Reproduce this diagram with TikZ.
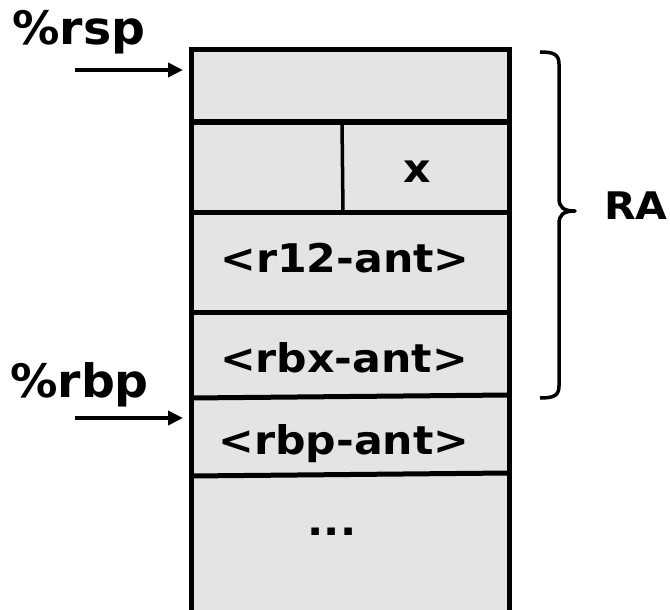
\documentclass[tikz,border=0pt]{standalone}
\usepackage{fontspec}
\usetikzlibrary{arrows.meta}
\newfontfamily\cellfont{DejaVu Sans}[FakeStretch=1.08]
\newfontfamily\regfont{DejaVu Sans}[FakeStretch=1.03]
\newfontfamily\rafont{DejaVu Sans}[FakeStretch=1.08]
\definecolor{cellgray}{RGB}{228,228,228}
\tikzset{
  celltext/.style={inner sep=0pt, anchor=base, font=\cellfont\bfseries\fontsize{39.5}{39.5}\selectfont},
  regtext/.style={inner sep=0pt, anchor=base west, font=\regfont\bfseries\fontsize{46}{46}\selectfont},
  ratext/.style={inner sep=0pt, anchor=base west, font=\rafont\bfseries\fontsize{38}{38}\selectfont},
  frame/.style={line width=5pt, line join=miter},
  rowline/.style={line width=5pt},
  divline/.style={line width=3.5pt},
  ptr/.style={line width=4.5pt, -{Triangle[length=15pt,width=14pt]}},
  bracestyle/.style={line width=3.5pt, line join=round, line cap=butt},
}
\begin{document}
\begin{tikzpicture}[x=1pt,y=-1pt]
\useasboundingbox (0,0) rectangle (670,610);
% stack frame
\fill[cellgray] (191,50) rectangle (509,616);
\coordinate (l1) at (191,122); \coordinate (r1) at (509,122);
\coordinate (l2) at (191,212); \coordinate (r2) at (509,212);
\coordinate (l3) at (191,312); \coordinate (r3) at (509,312);
\coordinate (l4) at (191,398); \coordinate (r4) at (509,395);
\coordinate (l5) at (191,476); \coordinate (r5) at (509,473);
\coordinate (dt) at (342,122); \coordinate (db) at (343,212);
\draw[rowline] (l1) -- (r1);
\draw[rowline] (l2) -- (r2);
\draw[rowline] (l3) -- (r3);
\draw[rowline] (l4) -- (r4);
\draw[rowline] (l5) -- (r5);
\draw[divline] (dt) -- (db);
\draw[frame] (191,616) -- (191,50) -- (509,50) -- (509,616);
% cell texts
\node[celltext] (x) at (417,182) {x};
\node[celltext] (r12) at (345,272) {<r12-ant>};
\node[celltext] (rbx) at (344,372) {<rbx-ant>};
\node[celltext] (rbp) at (344,454) {<rbp-ant>};
\node[celltext] (dots) at (332,535) {...};
% register labels and pointers
\node[regtext] (rsp) at (12,45) {\%rsp};
\node[regtext] (rbpl) at (10,397) {\%rbp};
\coordinate (rspS) at (75,70); \coordinate (rspE) at (183,70);
\coordinate (rbpS) at (75,418); \coordinate (rbpE) at (183,418);
\draw[ptr] (rspS) -- (rspE);
\draw[ptr] (rbpS) -- (rbpE);
% brace
\draw[bracestyle] (540,52) .. controls (553,52) and (559,54) .. (559,64)
  -- (559,198) .. controls (559,207) and (563,211) .. (575,211)
  .. controls (563,211) and (559,215) .. (559,224)
  -- (559,386) .. controls (559,396) and (553,398) .. (540,398);
\node[ratext] (ra) at (604,219) {RA};
\end{tikzpicture}
\end{document}
